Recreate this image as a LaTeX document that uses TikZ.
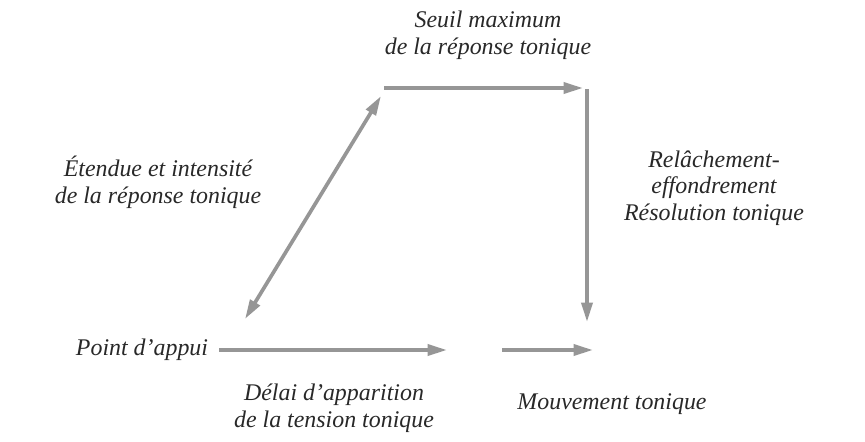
\documentclass[tikz,border=0pt]{standalone}
\usepackage{fontspec}
\setmainfont{Liberation Serif}
\usepackage{tikz}
\usetikzlibrary{arrows.meta, positioning}
\definecolor{cArrow}{RGB}{150,150,150}
\definecolor{cText}{RGB}{40,40,40}
\tikzset{
	lbl/.style     ={align=center, text=cText, font=\itshape\fontsize{13.6}{15.2}\selectfont, inner sep=0pt},
	tonarrow/.style={-{Triangle[length=3.9mm, width=2.2mm]}, line width=2.1pt, draw=cArrow},
	bothways/.style={{Triangle[length=3.9mm, width=2.2mm]}-{Triangle[length=3.9mm, width=2.2mm]}, line width=2.1pt, draw=cArrow},
}
\begin{document}
\begin{tikzpicture}[x=0.02cm, y=-0.02cm]
	\useasboundingbox (0,0) rectangle (865,441);
	% labels
	\node[lbl] (seuil) at (488,35) {Seuil maximum\\ de la réponse tonique};
	\node[lbl] (etendue) at (158,182) {Étendue et intensité\\ de la réponse tonique};
	\node[lbl] (relache) at (714,188) {Relâchement-\\ effondrement\\ Résolution tonique};
	\node[lbl] (appui) at (142,350) {Point d’appui};
	\node[lbl] (delai) at (334,408) {Délai d’apparition\\ de la tension tonique};
	\node[lbl] (mouv) at (612,404) {Mouvement tonique};
	% corners of the path
	\coordinate (bl) at (245,319);
	\coordinate (tl) at (381,96);
	\coordinate (tt) at (384,88);
	\coordinate (tr) at (583,88);
	\coordinate (rt) at (587,89);
	\coordinate (rb) at (587,322);
	\coordinate (m1) at (447,350);
	\coordinate (m2) at (502,350);
	\coordinate (m3) at (593,350);
	% arrows
	\draw[bothways] (bl) -- (tl);
	\draw[tonarrow] (tt) -- (tr);
	\draw[tonarrow] (rt) -- (rb);
	\draw[tonarrow] (appui.east) ++(11,0) -- (m1);
	\draw[tonarrow] (m2) -- (m3);
\end{tikzpicture}
\end{document}
